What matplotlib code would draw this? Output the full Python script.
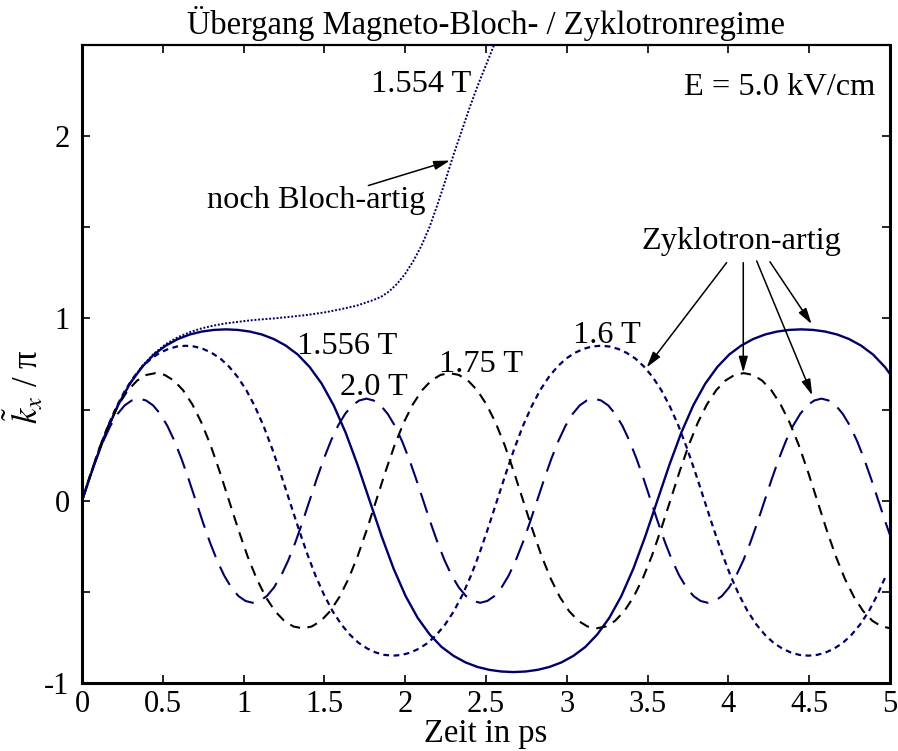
import numpy as np
import matplotlib
matplotlib.use('Agg')
import matplotlib.pyplot as plt

plt.rcParams['font.family'] = ['Liberation Serif', 'DejaVu Serif']
plt.rcParams['mathtext.fontset'] = 'stix'

# ---------------- data (k_x / pi versus time in ps) ----------------
# 2.0 T  (sampled every 0.044 ps)
dt_20 = 0.044
k_20 = [0, .118, .229, .328, .411, .476, .523, .550, .560, .550, .523, .476, .411, .328, .229, .118,
        0, -.118, -.229, -.328, -.411, -.476, -.523, -.550, -.560, -.550, -.523, -.476, -.411, -.328, -.229, -.118,
        0, .118, .229, .328, .411, .476, .523, .550, .560, .550, .523, .476, .411, .328, .229, .118,
        0, -.118, -.229, -.328, -.411, -.476, -.523, -.550, -.560, -.550, -.523, -.476, -.411, -.328, -.229, -.118,
        0, .118, .229, .328, .411, .476, .523, .550, .560, .550, .523, .476, .411, .328, .229, .118,
        0, -.118, -.229, -.328, -.411, -.476, -.523, -.550, -.560, -.550, -.523, -.476, -.411, -.328, -.229, -.118,
        0, .118, .229, .328, .411, .476, .523, .550, .560, .550, .523, .476, .411, .328, .229, .118,
        0, -.118, -.229]

# 1.75 T (sampled every 0.056875 ps)
dt_175 = 0.056875
k_175 = [0, .157, .303, .428, .529, .606, .659, .690, .700, .690, .659, .606, .529, .428, .303, .157,
         0, -.157, -.303, -.428, -.529, -.606, -.659, -.690, -.700, -.690, -.659, -.606, -.529, -.428, -.303, -.157,
         0, .157, .303, .428, .529, .606, .659, .690, .700, .690, .659, .606, .529, .428, .303, .157,
         0, -.157, -.303, -.428, -.529, -.606, -.659, -.690, -.700, -.690, -.659, -.606, -.529, -.428, -.303, -.157,
         0, .157, .303, .428, .529, .606, .659, .690, .700, .690, .659, .606, .529, .428, .303, .157,
         0, -.157, -.303, -.428, -.529, -.606, -.659, -.690, -.700]

# 1.6 T (sampled every 0.0535 ps)
dt_16 = 0.0535
k_16 = [0, .146, .285, .410, .517, .607, .679, .736, .780, .811, .833, .846, .850,
        .846, .833, .811, .780, .736, .679, .607, .517, .410, .285, .146,
        0, -.146, -.285, -.410, -.517, -.607, -.679, -.736, -.780, -.811, -.833, -.846, -.850,
        -.846, -.833, -.811, -.780, -.736, -.679, -.607, -.517, -.410, -.285, -.146,
        0, .146, .285, .410, .517, .607, .679, .736, .780, .811, .833, .846, .850,
        .846, .833, .811, .780, .736, .679, .607, .517, .410, .285, .146,
        0, -.146, -.285, -.410, -.517, -.607, -.679, -.736, -.780, -.811, -.833, -.846, -.850,
        -.846, -.833, -.811, -.780, -.736, -.679, -.607, -.517, -.410]

# 1.556 T (sampled every 0.074167 ps)
dt_1556 = 0.074167
k_1556 = [0, .195, .373, .523, .642, .733, .802, .851, .887, .912, .928, .937, .940,
          .937, .928, .912, .887, .851, .802, .733, .642, .523, .373, .195,
          0, -.195, -.373, -.523, -.642, -.733, -.802, -.851, -.887, -.912, -.928, -.937, -.940,
          -.937, -.928, -.912, -.887, -.851, -.802, -.733, -.642, -.523, -.373, -.195,
          0, .195, .373, .523, .642, .733, .802, .851, .887, .912, .928, .937, .940,
          .937, .928, .912, .887, .851, .802, .733, .642]

# 1.554 T (Bloch-like, leaves the plot at the top)
t_1554 = [0, 0.074, 0.148, 0.223, 0.297, 0.371, 0.445, 0.519, 0.593, 0.668, 0.742, 0.816, 0.890,
          0.964, 1.038, 1.113, 1.187, 1.30, 1.40, 1.50, 1.60, 1.70, 1.80, 1.85, 1.90, 1.95, 2.00,
          2.05, 2.10, 2.15, 2.20, 2.25, 2.30, 2.35, 2.40, 2.45, 2.50, 2.55, 2.60]
k_1554 = [0, 0.196, 0.375, 0.525, 0.645, 0.738, 0.807, 0.859, 0.897, 0.925, 0.946, 0.961, 0.973,
          0.981, 0.989, 0.995, 1.000, 1.010, 1.020, 1.033, 1.050, 1.070, 1.100, 1.118, 1.148, 1.190, 1.245,
          1.314, 1.398, 1.500, 1.625, 1.760, 1.900, 2.030, 2.160, 2.280, 2.390, 2.500, 2.600]

x_ticks = [0, 0.5, 1, 1.5, 2, 2.5, 3, 3.5, 4, 4.5, 5]
x_ticklabels = ['0', '0.5', '1', '1.5', '2', '2.5', '3', '3.5', '4', '4.5', '5']
y_ticks = [-1, -0.5, 0, 0.5, 1, 1.5, 2]
y_ticklabels = ['-1', '', '0', '', '1', '', '2']

title = 'Übergang Magneto-Bloch- / Zyklotronregime'
xlabel = 'Zeit in ps'
ylabel = r'$\tilde{k}_x$ / π'

# ---------------- figure ----------------
navy = '#000066'
fig = plt.figure(figsize=(8.98, 7.51), dpi=100)
ax = fig.add_axes([82 / 898, 1 - 683 / 751, 808 / 898, 638 / 751])

t_20 = np.arange(len(k_20)) * dt_20
t_175 = np.arange(len(k_175)) * dt_175
t_16 = np.arange(len(k_16)) * dt_16
t_1556 = np.arange(len(k_1556)) * dt_1556

ax.plot(t_1554, k_1554, color=navy, lw=1.4, linestyle=(0, (1.0, 0.9)))
ax.plot(t_1556, k_1556, color=navy, lw=1.7, linestyle='-')
ax.plot(t_16, k_16, color=navy, lw=1.6, linestyle=(0, (2.6, 2.0)))
ax.plot(t_175, k_175, color='black', lw=1.5, linestyle=(0, (5.0, 3.6)))
ax.plot(t_20, k_20, color=navy, lw=1.5, linestyle=(0, (10.0, 5.0)))

ax.set_xlim(0, 5)
ax.set_ylim(-1, 2.5)
ax.set_xticks(x_ticks)
ax.set_xticklabels(x_ticklabels)
ax.set_yticks(y_ticks)
ax.set_yticklabels(y_ticklabels)
ax.tick_params(direction='in', length=6, width=1.2, top=True, right=True,
               labelsize=22, pad=5)
ax.tick_params(axis='y', pad=9)
for s in ax.spines.values():
    s.set_linewidth(2.2)
ax.spines['top'].set_linewidth(1.6)

ax.set_title(title, fontsize=23.5, pad=8)
ax.set_xlabel(xlabel, fontsize=23.5)
ax.xaxis.set_label_coords(0.5, -0.056)
ax.xaxis.label.set_va('top')
ax.set_ylabel(ylabel, fontsize=25, va='center', ha='center')
ax.yaxis.set_label_coords(-0.071, 0.464)

fs = 23.3
ax.text(2.10, 2.240, '1.554 T', fontsize=fs, ha='center', va='baseline')
ax.text(1.452, 1.607, 'noch Bloch-artig', fontsize=fs, ha='center', va='baseline')
ax.text(1.638, 0.807, '1.556 T', fontsize=fs, ha='center', va='baseline')
ax.text(1.807, 0.578, '2.0 T', fontsize=fs, ha='center', va='baseline')
ax.text(2.468, 0.706, '1.75 T', fontsize=fs, ha='center', va='baseline')
ax.text(3.246, 0.865, '1.6 T', fontsize=fs, ha='center', va='baseline')
ax.text(4.319, 2.227, 'E = 5.0 kV/cm', fontsize=fs, ha='center', va='baseline')
ax.text(4.08, 1.382, 'Zyklotron-artig', fontsize=fs, ha='center', va='baseline')

arrow_kw = dict(arrowstyle='-|>,head_length=0.6,head_width=0.17', color='black', lw=1.1,
                mutation_scale=16, shrinkA=0, shrinkB=0)
arrows = [((1.772, 1.729), (2.277, 1.866)),
          ((3.989, 1.306), (3.494, 0.731)),
          ((4.092, 1.306), (4.092, 0.703)),
          ((4.175, 1.315), (4.519, 0.578)),
          ((4.257, 1.311), (4.515, 0.969))]
for tail, head in arrows:
    ax.annotate('', xy=head, xytext=tail, arrowprops=arrow_kw)

fig.savefig('out.png', dpi=100)
